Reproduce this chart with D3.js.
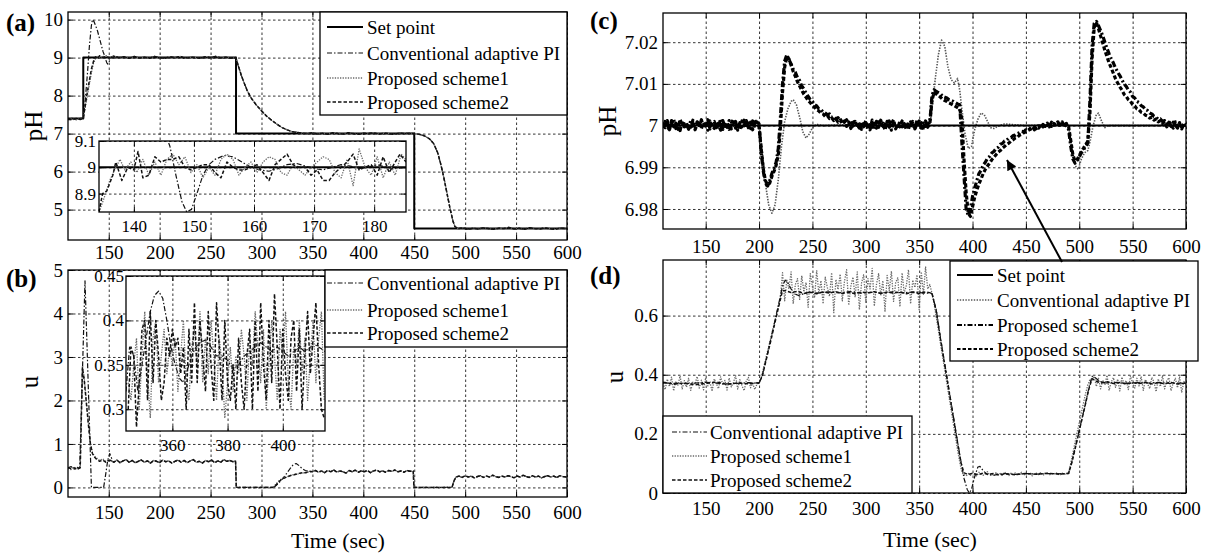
<!DOCTYPE html>
<html><head><meta charset="utf-8">
<script src="https://cdn.jsdelivr.net/npm/d3@7"></script>
<style>body{margin:0;background:#fff} text{font-family:"Liberation Serif","Times New Roman",serif}</style>
</head><body><svg id="c" width="1211" height="554"></svg>
<script>
// ---------------- DATA ----------------
const xTicks = [150,200,250,300,350,400,450,500,550,600];
// (a) pH, main
const aYTicks = [5,6,7,8,9,10];
const aSet = [[110,7.4],[125,7.4],[125,9],[275,9],[275,7],[450,7],[450,4.5],[600,4.5]];
const aConvHead = [[110,7.38],[114,7.40],[118,7.37],[122,7.40],[125,7.41],[127,7.9],[129,8.55],[131,9.3],[133,9.85],[134,10.0],[135.5,9.95],[137,9.85],[139,9.7],[141,9.5],[143,9.3],[144.5,9.15],[145.5,9.08],[147,8.95],[148,8.87],[148.8,8.83],[150,8.86],[151.5,8.97],[153,9.02],[155,9.045],[158,9.02]];
const aS1Head = [[110,7.36],[114,7.39],[118,7.36],[122,7.4],[125,7.42],[127,7.7],[129,8.0],[131,8.3],[133,8.6],[135,8.85],[137,8.97],[139,9.03],[142,8.98],[145,9.03],[148,9.05],[151,8.98],[154,9.02],[157,8.98]];
const aS2Head = [[110,7.38],[114,7.36],[118,7.4],[122,7.37],[125,7.4],[127,7.75],[129,8.1],[131,8.4],[133,8.7],[135,8.9],[137,9.02],[139,8.97],[141,9.05],[144,9.0],[147,9.03],[150,9.0],[153,8.98],[156,9.03]];
const aTail = [[160,9.0],[165,9.02],[170,8.98],[175,9.03],[180,8.99],[185,9.01],[190,8.98],[195,9.03],[200,9.0],[205,8.98],[210,9.02],[215,9.0],[220,9.03],[225,8.98],[230,9.01],[235,9.0],[240,8.98],[245,9.02],[250,9.0],[255,9.03],[260,8.99],[265,9.01],[270,8.98],[275,9.0],[277,8.8],[280,8.55],[283,8.33],[286,8.13],[290,7.93],[295,7.75],[300,7.6],[305,7.46],[310,7.35],[315,7.25],[320,7.16],[325,7.1],[330,7.05],[335,7.03],[340,7.01],[345,7.0],[350,7.02],[355,6.99],[360,7.01],[365,6.98],[370,7.02],[375,7.0],[380,6.99],[385,7.02],[390,7.0],[395,6.98],[400,7.01],[405,7.0],[410,7.02],[415,6.99],[420,7.01],[425,7.0],[430,6.98],[435,7.01],[440,7.0],[445,7.01],[450,7.0],[455,6.98],[460,6.94],[465,6.86],[469,6.74],[473,6.5],[476,6.2],[479,5.85],[482,5.45],[485,5.05],[488,4.7],[490,4.55],[493,4.5],[498,4.52],[503,4.48],[508,4.51],[513,4.49],[518,4.52],[523,4.5],[528,4.48],[533,4.51],[538,4.5],[543,4.53],[548,4.49],[553,4.51],[558,4.48],[563,4.52],[568,4.5],[573,4.49],[578,4.52],[583,4.5],[588,4.48],[593,4.51],[600,4.5]];
// (a) inset
const aInXTicks = [140,150,160,170,180];
const aInYTicks = [8.9,9,9.1];
const aInSet = [[134.2,9],[185.3,9]];
const aInConv = [[145.2,9.13],[146,9.08],[147,8.97],[148,8.87],[148.8,8.83],[149.6,8.84],[150.5,8.9],[151.5,8.97],[152.5,9.01],[153.5,9.03],[155,9.045],[156.5,9.04],[158,9.02],[159.5,9.0],[161,8.99],[162.5,8.985],[164,8.995],[165.5,9.01],[167,9.015],[168.5,9.005],[170,8.995],[171.5,8.99],[173,9.0],[174.5,9.01],[176,9.005],[177.5,8.995],[179,9.0],[180.5,9.01],[182,9.0],[183.5,8.995],[185.3,9.0]];
const aInS1 = [[134.2,8.83],[135,8.88],[136,8.95],[137,9.0],[137.7,9.03],[138.5,8.99],[139.5,9.02],[140.5,8.98],[141.5,9.03],[142.5,8.97],[143.5,9.02],[144.5,8.97],[145.5,9.03],[146.5,9.05],[147.5,9.01],[148.5,9.04],[149.5,8.98],[150.5,9.01],[151.5,8.96],[152.5,9.0],[153.5,8.97],[154.5,9.03],[155.5,9.05],[156.5,9.03],[157.5,8.97],[158.5,9.0],[159.5,9.02],[160.5,8.98],[161.5,9.02],[162.5,9.04],[163.5,9.03],[164.5,8.98],[165.5,8.97],[166.5,9.01],[167.5,8.99],[168.5,8.97],[169.5,9.0],[170.5,9.02],[171.5,9.04],[172.5,9.03],[173.5,8.98],[174.5,8.96],[175.5,9.03],[176.5,8.93],[177.5,9.07],[178.5,9.0],[179.5,8.97],[180.5,9.04],[181.5,8.96],[182.5,9.02],[183.5,8.97],[184.5,9.05],[185.3,9.03]];
const aInS2 = [[134.2,8.83],[134.8,8.9],[135.5,8.91],[136.5,8.97],[137,9.02],[138,8.95],[139,9.0],[140,8.99],[140.7,9.06],[141.5,8.96],[142.5,8.97],[143.5,9.04],[144.5,9.02],[145.5,9.03],[146.5,9.03],[147.5,9.04],[148.5,9.0],[149.5,8.99],[150.5,9.0],[151.5,9.01],[152.5,9.01],[153.5,8.98],[154.5,8.96],[155.5,9.02],[156.5,9.0],[157.5,8.99],[158.5,8.99],[159.5,9.0],[160.5,9.01],[161.5,8.98],[162.5,8.95],[163.5,9.01],[164.5,9.03],[165.5,9.05],[166.5,9.01],[167.5,9.0],[168.5,9.0],[169.5,8.97],[170.5,8.99],[171.5,8.95],[172.5,8.95],[173.5,8.98],[174.5,9.0],[175.5,9.02],[176.5,9.05],[177.5,8.99],[178.5,9.0],[179.5,9.01],[180.5,8.97],[181.5,9.04],[182.5,8.98],[183.5,9.02],[184.3,9.05],[185.3,9.02]];
// (b) u, main
const bYTicks = [0,1,2,3,4,5];
const bConvHead = [[110,0.45],[113,0.48],[116,0.42],[119,0.46],[121.5,0.44],[126.7,4.75],[133,0.0],[145,0.0],[147,0.3],[149,0.62],[151,0.78],[153,0.66]];
const bS1Head = [[110,0.44],[113,0.41],[116,0.47],[119,0.43],[122,0.45],[124.2,2.8],[126,2.5],[128,2.0],[130,1.5],[132,1.05],[134,0.8],[136,0.72],[138,0.68],[141,0.62],[144,0.66],[147,0.6],[150,0.64]];
const bS2Head = [[110,0.46],[113,0.43],[116,0.45],[119,0.41],[122,0.46],[124.2,2.75],[126,2.45],[128,1.95],[130,1.45],[132,1.0],[134,0.78],[136,0.7],[138,0.65],[141,0.6],[144,0.63],[147,0.58],[150,0.62]];
const bLevel1 = [[152,0.62],[155,0.58],[158,0.63],[161,0.57],[164,0.61],[167,0.64],[170,0.58],[173,0.62],[176,0.57],[179,0.6],[182,0.63],[185,0.58],[188,0.61],[191,0.56],[194,0.62],[197,0.6],[200,0.57],[203,0.63],[206,0.59],[209,0.61],[212,0.56],[215,0.6],[218,0.63],[221,0.58],[224,0.62],[227,0.57],[230,0.61],[233,0.64],[236,0.58],[239,0.6],[242,0.56],[245,0.62],[248,0.59],[251,0.63],[254,0.57],[257,0.61],[260,0.58],[263,0.64],[266,0.6],[269,0.62],[272,0.59],[274.5,0.61]];
const bGap1 = [[275.3,0],[311,0]];
const bConvRise = [[312,0],[316,0.08],[320,0.18],[324,0.3],[328,0.43],[331,0.52],[334,0.55],[337,0.5],[340,0.43],[343,0.39],[346,0.37]];
const bS1Rise = [[311,0],[314,0.07],[317,0.15],[320,0.2],[324,0.24],[328,0.27],[332,0.3],[336,0.31],[340,0.33],[344,0.35],[347,0.36]];
const bS2Rise = [[311,0],[314,0.05],[317,0.13],[320,0.19],[324,0.23],[328,0.27],[332,0.29],[336,0.32],[340,0.34],[344,0.34],[347,0.37]];
const bLevel2 = [[350,0.36],[353,0.39],[356,0.35],[359,0.38],[362,0.34],[365,0.39],[368,0.36],[371,0.4],[374,0.35],[377,0.38],[380,0.36],[383,0.33],[386,0.39],[389,0.36],[392,0.4],[395,0.35],[398,0.38],[401,0.36],[404,0.39],[407,0.34],[410,0.38],[413,0.4],[416,0.36],[419,0.38],[422,0.35],[425,0.39],[428,0.37],[431,0.4],[434,0.36],[437,0.38],[440,0.35],[443,0.39],[446,0.37],[449,0.38]];
const bGap2 = [[449.7,0],[487,0],[489,0.15],[491,0.24]];
const bLevel3 = [[494,0.26],[497,0.23],[500,0.27],[503,0.24],[506,0.26],[509,0.22],[512,0.25],[515,0.27],[518,0.23],[521,0.26],[524,0.24],[527,0.28],[530,0.25],[533,0.23],[536,0.26],[539,0.24],[542,0.27],[545,0.25],[548,0.22],[551,0.26],[554,0.24],[557,0.28],[560,0.25],[563,0.23],[566,0.27],[569,0.24],[572,0.26],[575,0.22],[578,0.25],[581,0.27],[584,0.24],[587,0.26],[590,0.23],[593,0.27],[596,0.25],[600,0.24]];
// (b) inset
const bInXTicks = [360,380,400];
const bInYTicks = [0.3,0.35,0.4,0.45];
const bInYLabels = ["0.3","0.35","0.4","0.45"];
const bInT0 = 344, bInDt = 1;
const bInS2 = [0.30,0.37,0.36,0.28,0.33,0.39,0.40,0.31,0.41,0.33,0.40,0.36,0.31,0.33,0.38,0.36,0.39,0.37,0.38,0.34,0.37,0.30,0.39,0.33,0.42,0.33,0.40,0.36,0.32,0.41,0.35,0.31,0.42,0.37,0.31,0.40,0.33,0.31,0.35,0.30,0.38,0.33,0.30,0.36,0.39,0.30,0.40,0.32,0.42,0.35,0.31,0.40,0.33,0.43,0.37,0.30,0.39,0.34,0.31,0.38,0.40,0.32,0.39,0.30,0.36,0.41,0.34,0.38,0.42,0.35,0.30,0.29];
const bInS1 = [0.33,0.31,0.35,0.38,0.30,0.36,0.41,0.34,0.29,0.38,0.40,0.33,0.36,0.39,0.34,0.37,0.35,0.38,0.32,0.36,0.40,0.33,0.31,0.37,0.39,0.35,0.41,0.33,0.38,0.34,0.40,0.36,0.31,0.38,0.35,0.29,0.33,0.37,0.32,0.36,0.34,0.39,0.36,0.31,0.38,0.35,0.41,0.37,0.33,0.39,0.30,0.35,0.40,0.36,0.31,0.39,0.36,0.41,0.33,0.30,0.37,0.35,0.40,0.34,0.38,0.31,0.36,0.40,0.33,0.38,0.41,0.31];
const bInConv = [[343.2,0.32],[344.5,0.37],[346,0.36],[347.5,0.32],[349,0.35],[350.5,0.38],[352,0.41],[353.5,0.428],[355,0.433],[356.5,0.425],[358,0.40],[359.5,0.37],[361,0.35],[362.5,0.335],[364,0.33],[365.5,0.345],[367,0.36],[368.5,0.37],[370,0.375],[372,0.378],[374,0.37],[376,0.36],[378,0.36],[380,0.355],[382,0.345],[384,0.35],[386,0.36],[388,0.365],[390,0.37],[392,0.375],[394,0.37],[396,0.365],[398,0.37],[400,0.365],[402,0.36],[404,0.365],[406,0.37],[408,0.365],[410,0.37],[412,0.372],[414,0.368],[415.3,0.365]];
// (c) pH, disturbance rejection
const cYTicks = [6.98,6.99,7,7.01,7.02];
const cYLabels = ["6.98","6.99","7","7.01","7.02"];
const cSet = [[110,7],[600,7]];
const cConv = [[110,7.0003],[125,6.9998],[140,7.0004],[155,6.9997],[170,7.0002],[185,6.9998],[200,7.0],[203,6.994],[206,6.986],[209,6.981],[212,6.979],[215,6.981],[218,6.987],[221,6.995],[224,7.001],[227,7.004],[230,7.0058],[232,7.0062],[235,7.005],[238,7.002],[241,6.9985],[244,6.997],[247,6.998],[250,6.9995],[254,7.0003],[260,7.0],[280,7.0002],[300,6.9999],[320,7.0001],[340,7.0],[360,7.0],[362,7.004],[365,7.011],[368,7.017],[371,7.0205],[374,7.019],[377,7.014],[380,7.011],[383,7.0102],[386,7.0113],[388,7.0085],[390,7.004],[393,6.998],[396,6.9945],[399,6.995],[402,6.999],[405,7.0015],[408,7.003],[411,7.0026],[414,7.001],[417,6.9995],[420,6.9993],[425,7.0],[430,7.0004],[450,7.0],[470,7.0002],[490,7.0],[493,6.995],[496,6.9905],[499,6.9895],[502,6.992],[505,6.9935],[508,6.994],[510,6.996],[513,7.0],[516,7.0026],[518,7.003],[521,7.001],[524,6.9995],[527,7.0],[560,7.0],[600,7.0]];
const cT0 = 110, cDt = 2;
const cS1 = [7.0008,6.9995,7.0012,6.9990,7.0004,7.0015,6.9993,7.0002,6.9988,7.0010,
6.9997,7.0006,6.9991,7.0013,7.0000,6.9992,7.0009,6.9996,7.0014,6.9994,
7.0003,6.9989,7.0011,7.0001,6.9993,7.0008,6.9998,7.0016,6.9991,7.0005,
6.9996,7.0012,6.9992,7.0004,7.0010,6.9989,7.0007,6.9997,7.0013,6.9994,
7.0006,6.9993,7.0011,6.9999,7.0009,
7.0004,6.9935,6.9890,6.9862,6.9855,6.9868,6.9885,6.9898,6.9912,6.9945,
7.0020,7.0100,7.0155,7.0170,7.0158,7.0148,7.0135,7.0128,7.0115,7.0108,
7.0095,7.0088,7.0078,7.0070,7.0062,7.0058,7.0050,7.0047,7.0040,7.0038,
7.0033,7.0030,7.0026,7.0028,7.0020,7.0022,7.0016,7.0019,7.0012,7.0015,
7.0008,7.0014,7.0004,7.0011,6.9999,7.0010,7.0002,6.9994,7.0009,6.9997,
7.0012,6.9992,7.0006,7.0001,6.9990,7.0010,6.9996,7.0013,6.9993,7.0004,
6.9998,7.0011,6.9989,7.0007,7.0002,6.9993,7.0012,6.9997,7.0005,6.9990,
7.0008,6.9995,7.0010,6.9992,7.0004,7.0011,6.9994,7.0006,6.9998,7.0003,
7.0010,7.0072,7.0086,7.0082,7.0079,7.0076,7.0070,7.0068,7.0066,7.0062,
7.0060,7.0058,7.0055,7.0052,7.0050,6.9960,6.9880,6.9800,6.9785,6.9800,
6.9830,6.9850,6.9868,6.9885,6.9893,6.9905,6.9912,6.9922,6.9926,6.9934,
6.9938,6.9945,6.9948,6.9955,6.9957,6.9963,6.9965,6.9970,6.9971,6.9976,
6.9977,6.9981,6.9983,6.9986,6.9985,6.9990,6.9988,6.9993,6.9990,6.9996,
6.9993,6.9999,6.9996,7.0003,6.9998,7.0006,6.9997,7.0008,7.0001,7.0005,
7.0009,6.9998,7.0007,7.0002,7.0005,6.9990,6.9950,6.9920,6.9910,6.9914,
6.9925,6.9935,6.9942,6.9950,6.9958,7.0060,7.0190,7.0245,7.0250,7.0240,
7.0228,7.0215,7.0200,7.0185,7.0172,7.0160,7.0150,7.0138,7.0128,7.0120,
7.0110,7.0100,7.0094,7.0085,7.0080,7.0070,7.0066,7.0058,7.0055,7.0048,
7.0045,7.0038,7.0036,7.0030,7.0028,7.0022,7.0020,7.0015,7.0016,7.0010,
7.0012,7.0004,7.0010,6.9998,7.0008,7.0001,6.9994,7.0007,6.9996,7.0005,
7.0000];
const cS2 = [6.9994,7.0010,7.0003,6.9988,7.0012,6.9997,7.0006,6.9991,7.0015,7.0000,
7.0009,6.9992,7.0004,6.9996,7.0013,6.9990,7.0002,7.0011,6.9993,7.0007,
6.9996,7.0014,6.9992,7.0005,7.0010,6.9995,7.0001,6.9989,7.0012,6.9998,
7.0008,6.9991,7.0006,7.0015,6.9994,7.0003,6.9990,7.0011,7.0000,7.0012,
6.9995,7.0008,6.9990,7.0013,7.0002,
6.9998,6.9945,6.9895,6.9868,6.9858,6.9862,6.9878,6.9890,6.9905,6.9930,
6.9995,7.0080,7.0140,7.0165,7.0160,7.0145,7.0130,7.0118,7.0105,7.0095,
7.0085,7.0075,7.0068,7.0060,7.0055,7.0048,7.0044,7.0038,7.0035,7.0030,
7.0028,7.0022,7.0024,7.0017,7.0019,7.0012,7.0016,7.0008,7.0013,7.0004,
7.0011,6.9998,7.0009,6.9993,7.0006,7.0012,6.9995,7.0004,6.9991,7.0010,
6.9996,7.0008,6.9990,7.0013,7.0002,6.9994,7.0009,6.9998,7.0006,6.9989,
7.0010,6.9996,7.0005,7.0014,6.9992,7.0003,6.9997,7.0011,6.9993,7.0008,
6.9992,7.0009,7.0001,6.9994,7.0013,6.9998,7.0007,6.9990,7.0011,6.9996,
7.0004,7.0060,7.0080,7.0076,7.0072,7.0068,7.0063,7.0060,7.0058,7.0054,
7.0052,7.0049,7.0046,7.0043,7.0040,7.0015,6.9920,6.9840,6.9790,6.9782,
6.9805,6.9828,6.9845,6.9860,6.9872,6.9885,6.9895,6.9903,6.9910,6.9918,
6.9924,6.9930,6.9936,6.9940,6.9946,6.9950,6.9955,6.9958,6.9963,6.9966,
6.9970,6.9972,6.9977,6.9979,6.9983,6.9985,6.9988,6.9991,6.9993,6.9990,
6.9997,6.9994,7.0002,6.9997,7.0004,7.0000,7.0007,6.9998,7.0005,7.0002,
7.0006,7.0001,7.0009,6.9997,7.0004,6.9998,6.9965,6.9930,6.9915,6.9918,
6.9928,6.9938,6.9946,6.9955,6.9962,7.0030,7.0160,7.0235,7.0248,7.0232,
7.0215,7.0198,7.0180,7.0165,7.0150,7.0138,7.0125,7.0112,7.0102,7.0093,
7.0085,7.0075,7.0070,7.0062,7.0058,7.0050,7.0047,7.0040,7.0038,7.0032,
7.0030,7.0025,7.0023,7.0018,7.0020,7.0013,7.0016,7.0009,7.0012,7.0005,
7.0010,6.9997,7.0008,7.0001,6.9994,7.0009,6.9998,7.0006,6.9992,7.0004,
7.0001];
// (d) u, disturbance rejection
const dYTicks = [0,0.2,0.4,0.6];
const dYLabels = ["0","0.2","0.4","0.6"];
const dConv = [[110,0.372],[130,0.37],[150,0.374],[170,0.369],[190,0.373],[200,0.371],[203,0.397],[207,0.458],[211,0.52],[215,0.585],[219,0.65],[222,0.7],[224.5,0.72],[227,0.712],[230,0.69],[233,0.674],[237,0.668],[242,0.674],[248,0.68],[255,0.676],[265,0.68],[275,0.677],[285,0.681],[295,0.676],[305,0.679],[315,0.676],[325,0.68],[335,0.677],[345,0.68],[355,0.676],[362,0.675],[366,0.62],[370,0.525],[375,0.415],[380,0.305],[385,0.195],[389,0.11],[392,0.05],[395,0.012],[397,0.0],[399,0.012],[402,0.055],[405,0.088],[407,0.09],[410,0.075],[414,0.062],[420,0.06],[430,0.066],[440,0.063],[450,0.066],[460,0.064],[470,0.066],[480,0.065],[490,0.066],[493,0.105],[497,0.165],[501,0.228],[505,0.29],[509,0.355],[512,0.395],[515,0.39],[519,0.378],[525,0.372],[535,0.374],[545,0.371],[555,0.373],[565,0.372],[575,0.374],[585,0.371],[600,0.372]];
const dS2 = [[110,0.375],[120,0.368],[130,0.372],[140,0.366],[150,0.371],[160,0.375],[170,0.367],[180,0.372],[190,0.369],[200,0.373],[203,0.395],[207,0.455],[211,0.515],[215,0.578],[219,0.64],[222,0.685],[225,0.684],[230,0.678],[236,0.682],[242,0.675],[248,0.679],[254,0.674],[260,0.68],[266,0.676],[272,0.681],[278,0.675],[284,0.679],[290,0.674],[296,0.68],[302,0.676],[308,0.681],[314,0.675],[320,0.679],[326,0.676],[332,0.68],[338,0.674],[344,0.679],[350,0.675],[356,0.68],[362,0.676],[366,0.615],[370,0.52],[375,0.41],[380,0.3],[385,0.19],[389,0.105],[392,0.068],[396,0.063],[400,0.066],[405,0.062],[410,0.067],[415,0.063],[420,0.066],[425,0.06],[430,0.065],[440,0.062],[450,0.066],[460,0.063],[470,0.067],[480,0.064],[490,0.066],[493,0.102],[497,0.163],[501,0.226],[505,0.288],[509,0.352],[512,0.387],[516,0.378],[520,0.372],[526,0.376],[532,0.37],[538,0.374],[544,0.369],[550,0.373],[556,0.37],[562,0.375],[568,0.369],[574,0.373],[580,0.37],[586,0.374],[592,0.369],[600,0.372]];
const dT0 = 110, dDt = 2;
const dS1 = [0.372,0.350,0.385,0.360,0.392,0.345,0.378,0.365,0.396,0.352,
0.380,0.358,0.388,0.347,0.375,0.368,0.394,0.355,0.382,0.349,
0.390,0.362,0.376,0.344,0.386,0.370,0.353,0.393,0.366,0.381,
0.348,0.389,0.359,0.374,0.397,0.351,0.383,0.363,0.346,0.379,
0.391,0.356,0.371,0.350,0.368,
0.372,0.390,0.420,0.450,0.480,0.510,0.540,0.570,0.600,0.630,
0.662,0.745,0.650,0.720,0.690,0.748,0.640,0.705,0.725,0.655,
0.735,0.680,0.712,0.628,0.742,0.697,0.660,0.752,0.675,0.718,
0.640,0.730,0.695,0.665,0.745,0.610,0.722,0.688,0.740,0.650,
0.715,0.755,0.635,0.700,0.730,0.662,0.748,0.620,0.710,0.738,
0.645,0.725,0.690,0.760,0.632,0.705,0.742,0.668,0.718,0.615,
0.736,0.685,0.750,0.648,0.712,0.728,0.630,0.744,0.676,0.702,
0.755,0.640,0.720,0.695,0.738,0.620,0.748,0.672,0.765,0.690,
0.705,0.675,0.640,0.595,0.550,0.505,0.460,0.415,0.370,0.325,
0.280,0.235,0.190,0.145,0.105,0.070,0.062,0.058,0.066,0.060,
0.068,0.063,0.057,0.070,0.064,0.060,0.067,0.072,0.061,0.065,
0.058,0.069,0.063,0.066,0.060,0.071,0.064,0.059,0.067,0.062,
0.068,0.061,0.065,0.070,0.060,0.066,0.063,0.069,0.058,0.064,
0.067,0.062,0.070,0.060,0.065,0.068,0.061,0.066,0.063,0.069,
0.064,0.060,0.067,0.063,0.066,0.068,0.100,0.135,0.170,0.205,
0.238,0.272,0.305,0.338,0.365,0.384,0.378,0.395,0.360,0.388,
0.352,0.382,0.365,0.398,0.348,0.376,0.390,0.357,0.385,0.345,
0.392,0.366,0.380,0.350,0.396,0.371,0.355,0.388,0.362,0.394,
0.347,0.384,0.369,0.353,0.391,0.375,0.343,0.386,0.360,0.397,
0.352,0.379,0.390,0.346,0.372,0.388,0.356,0.393,0.341,0.377,
0.368];
const legendABC = ["Set point","Conventional adaptive PI","Proposed scheme1","Proposed scheme2"];

// ---------------- DRAWING ----------------
const FONT = "Liberation Serif, Times New Roman, serif";
const svg = d3.select("#c");
const defs = svg.append("defs");
const uni = (t0, dt, vals) => vals.map((v, i) => [t0 + i * dt, v]);

const ST = {
  set: {c:"#000", w:2, d:null},
  dd: {c:"#111", w:1.2, d:"5,2,1.5,2"},
  dot: {c:"#6a6a6a", w:1.3, d:"1.3,1.3"},
  dash: {c:"#111", w:1.5, d:"3.5,2"},
  cdot: {c:"#555", w:1.6, d:"1.4,1.4"},
  cdd: {c:"#000", w:3.2, d:"6,2.5,2,2.5"},
  cdash: {c:"#000", w:3.2, d:"4,2.2"}
};
let clipN = 0;

function panel(box, xd, yd, o) {
  const x = d3.scaleLinear().domain(xd).range([box.L, box.R]);
  const y = d3.scaleLinear().domain(yd).range([box.B, box.T]);
  const W = box.R - box.L, H = box.B - box.T;
  const g = svg.append("g");
  if (o.bg) g.append("rect").attr("x", box.L).attr("y", box.T).attr("width", W).attr("height", H).attr("fill", "#fff");
  const gx = g.append("g").attr("transform", `translate(0,${box.B})`)
    .call(d3.axisBottom(x).tickValues(o.xt).tickSize(-H).tickFormat(""));
  const gy = g.append("g").attr("transform", `translate(${box.L},0)`)
    .call(d3.axisLeft(y).tickValues(o.yt).tickSize(-W).tickFormat(""));
  [gx, gy].forEach(a => { a.select(".domain").remove();
    a.selectAll("line").attr("stroke", "#000").attr("stroke-width", 0.8).attr("stroke-dasharray", "2.5,2.5"); });
  const id = "clip" + (clipN++);
  defs.append("clipPath").attr("id", id).append("rect").attr("x", box.L).attr("y", box.T).attr("width", W).attr("height", H);
  const line = d3.line().x(d => x(d[0])).y(d => y(d[1]));
  const lg = g.append("g").attr("clip-path", `url(#${id})`);
  o.series.forEach(s => lg.append("path").attr("d", line(s.data)).attr("fill", "none")
    .attr("stroke", s.st.c).attr("stroke-width", s.st.w).attr("stroke-dasharray", s.st.d)
    .attr("stroke-linejoin", "round"));
  g.append("rect").attr("x", box.L).attr("y", box.T).attr("width", W).attr("height", H)
    .attr("fill", "none").attr("stroke", "#000").attr("stroke-width", 1.3);
  const fs = o.fs || 19;
  const style = a => { a.select(".domain").remove();
    a.attr("font-family", FONT).attr("font-size", fs);
    a.selectAll("line").attr("stroke", "#000").attr("stroke-width", 1);
    a.selectAll("text").attr("fill", "#000"); };
  const xf = o.xl ? ((d, i) => o.xl[i]) : (d => d);
  const yf = o.yl ? ((d, i) => o.yl[i]) : (d => d);
  style(g.append("g").attr("transform", `translate(0,${box.B})`)
    .call(d3.axisBottom(x).tickValues(o.xt).tickSizeInner(-5).tickSizeOuter(0).tickPadding(o.xpad).tickFormat(xf)));
  style(g.append("g").attr("transform", `translate(0,${box.T})`)
    .call(d3.axisTop(x).tickValues(o.xt).tickSizeInner(-5).tickSizeOuter(0).tickFormat("")));
  style(g.append("g").attr("transform", `translate(${box.L},0)`)
    .call(d3.axisLeft(y).tickValues(o.yt).tickSizeInner(-5).tickSizeOuter(0).tickPadding(o.ypad || 5).tickFormat(yf)));
  style(g.append("g").attr("transform", `translate(${box.R},0)`)
    .call(d3.axisRight(y).tickValues(o.yt).tickSizeInner(-5).tickSizeOuter(0).tickFormat("")));
  return {x, y, g};
}

function legend(b, items, rows, lx0, lx1, tx) {
  const g = svg.append("g");
  g.append("rect").attr("x", b[0]).attr("y", b[1]).attr("width", b[2] - b[0]).attr("height", b[3] - b[1])
    .attr("fill", "#fff").attr("stroke", "#000").attr("stroke-width", 1.3);
  items.forEach((it, i) => {
    g.append("line").attr("x1", lx0).attr("x2", lx1).attr("y1", rows[i]).attr("y2", rows[i])
      .attr("stroke", it.st.c).attr("stroke-width", it.st.w).attr("stroke-dasharray", it.st.d);
    g.append("text").attr("x", tx).attr("y", rows[i]).attr("dy", "0.35em").attr("font-family", FONT)
      .attr("font-size", 19).attr("fill", "#000").text(it.label);
  });
}

function label(txt, x, y, size, opts = {}) {
  const t = svg.append("text").attr("x", x).attr("y", y).attr("font-family", FONT).attr("font-size", size)
    .attr("fill", "#000").text(txt);
  if (opts.bold) t.attr("font-weight", "bold");
  if (opts.anchor) t.attr("text-anchor", opts.anchor);
  if (opts.rot) t.attr("transform", `rotate(-90,${x},${y})`).attr("text-anchor", "middle").attr("dominant-baseline", "central");
  return t;
}

// (a)
panel({L:68, R:567, T:12, B:240}, [110,600], [4.2,10.2], {xt:xTicks, yt:aYTicks, xpad:6,
  series:[{data:aSet, st:ST.set}, {data:aConvHead.concat(aTail), st:ST.dd},
          {data:aS1Head.concat(aTail), st:ST.dot}, {data:aS2Head.concat(aTail), st:ST.dash}]});
panel({L:99, R:406, T:141, B:212}, [134.2,185.3], [8.83,9.1], {xt:aInXTicks, yt:aInYTicks, xpad:8, ypad:3, fs:17, bg:true,
  series:[{data:aInSet, st:ST.set}, {data:aInConv, st:ST.dd}, {data:aInS1, st:ST.dot}, {data:aInS2, st:ST.dash}]});
legend([320,12,567,115], [
  {label:legendABC[0], st:ST.set}, {label:legendABC[1], st:ST.dd},
  {label:legendABC[2], st:ST.dot}, {label:legendABC[3], st:ST.dash}], [27,53,78,102], 327, 363, 367);

// (b)
panel({L:68, R:567, T:270, B:497}, [110,600], [-0.22,5], {xt:xTicks, yt:bYTicks, xpad:8.5,
  series:[{data:bConvHead.concat(bLevel1, bGap1, bConvRise, bLevel2, bGap2, bLevel3), st:ST.dd},
          {data:bS1Head.concat(bLevel1, bGap1, bS1Rise, bLevel2, bGap2, bLevel3), st:ST.dot},
          {data:bS2Head.concat(bLevel1, bGap1, bS2Rise, bLevel2, bGap2, bLevel3), st:ST.dash}]});
panel({L:126, R:325, T:276, B:431}, [343.2,415.3], [0.2755,0.45], {xt:bInXTicks, yt:bInYTicks, yl:bInYLabels, xpad:8, ypad:2, fs:17, bg:true,
  series:[{data:bInConv, st:ST.dd}, {data:uni(bInT0, bInDt, bInS1), st:ST.dot}, {data:uni(bInT0, bInDt, bInS2), st:ST.dash}]});
legend([325,270,567,347], [
  {label:legendABC[1], st:ST.dd}, {label:legendABC[2], st:ST.dot}, {label:legendABC[3], st:ST.dash}],
  [283,310,333], 327, 363, 367);

// (c)
panel({L:663, R:1186, T:13, B:229}, [110,600], [6.9752,7.027], {xt:xTicks, yt:cYTicks, yl:cYLabels, xpad:11,
  series:[{data:cConv, st:ST.cdot}, {data:uni(cT0, cDt, cS2), st:ST.cdash},
          {data:uni(cT0, cDt, cS1), st:ST.cdd}, {data:cSet, st:ST.set}]});

// (d)
panel({L:663, R:1186, T:260, B:493}, [110,600], [0,0.788], {xt:xTicks, yt:dYTicks, yl:dYLabels, xpad:8.5,
  series:[{data:uni(dT0, dDt, dS1), st:ST.dot}, {data:dS2, st:ST.dash}, {data:dConv, st:ST.dd}]});
legend([663,416,912,493], [
  {label:legendABC[1], st:ST.dd}, {label:legendABC[2], st:ST.dot}, {label:legendABC[3], st:ST.dash}],
  [432,456,480], 672, 707, 710);
legend([950,261,1198,361], [
  {label:legendABC[0], st:ST.set}, {label:legendABC[1], st:ST.cdot},
  {label:legendABC[2], st:{c:"#000", w:2.2, d:"5,2,1.5,2"}}, {label:legendABC[3], st:{c:"#000", w:2.2, d:"3.5,2"}}],
  [275,300,325,349], 957, 993, 997);

// arrow
defs.append("marker").attr("id", "ah").attr("viewBox", "0 0 10 10").attr("refX", 10).attr("refY", 5)
  .attr("markerWidth", 12).attr("markerHeight", 10).attr("markerUnits", "userSpaceOnUse").attr("orient", "auto")
  .append("path").attr("d", "M0,0 L10,5 L0,10 z").attr("fill", "#000");
svg.append("line").attr("x1", 1062).attr("y1", 262).attr("x2", 1007).attr("y2", 160)
  .attr("stroke", "#000").attr("stroke-width", 2).attr("marker-end", "url(#ah)");

// labels
label("(a)", 6, 31, 25, {bold:true});
label("(b)", 6, 287, 25, {bold:true});
label("(c)", 590, 29, 25, {bold:true});
label("(d)", 590, 284, 25, {bold:true});
label("pH", 33, 126, 25, {rot:true});
label("u", 29, 382, 25, {rot:true});
label("pH", 607, 121, 25, {rot:true});
label("u", 614, 377, 25, {rot:true});
label("Time (sec)", 338, 548, 22, {anchor:"middle"});
label("Time (sec)", 930, 547, 22, {anchor:"middle"});
</script></body></html>
